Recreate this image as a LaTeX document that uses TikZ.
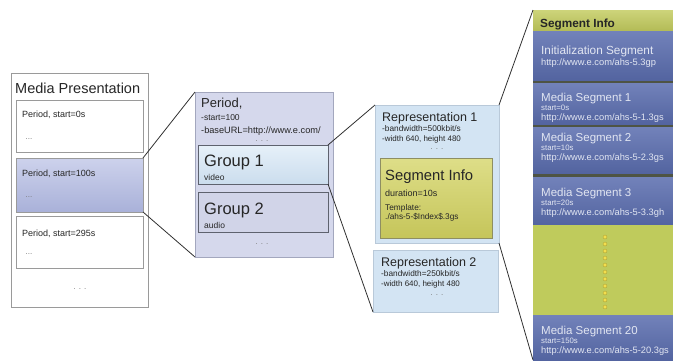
\documentclass[tikz,border=0pt]{standalone}
\usepackage{fontspec}
\setmainfont{Liberation Sans}
\usetikzlibrary{shadows}
\definecolor{txtdark}{HTML}{262626}
\definecolor{dotgray}{HTML}{7A7A7A}
\definecolor{boxline}{HTML}{9A9A9A}
\definecolor{selTop}{HTML}{CDD2EC}
\definecolor{selBot}{HTML}{A9B1D9}
\definecolor{perFill}{HTML}{D5D8EC}
\definecolor{perLine}{HTML}{A3A7BE}
\definecolor{gOneTop}{HTML}{E6F0F9}
\definecolor{gOneBot}{HTML}{CBDDED}
\definecolor{gTwo}{HTML}{D1D4E8}
\definecolor{gLine}{HTML}{5E626E}
\definecolor{repFill}{HTML}{D3E4F3}
\definecolor{repLine}{HTML}{B9C9D9}
\definecolor{siTop}{HTML}{DEDE88}
\definecolor{siBot}{HTML}{C5C55A}
\definecolor{siLine}{HTML}{8E8E62}
\definecolor{colTop}{HTML}{7282BA}
\definecolor{colBot}{HTML}{5364A0}
\definecolor{colSep}{HTML}{4E5444}
\definecolor{colTxt}{HTML}{E2E6F2}
\definecolor{hdrTop}{HTML}{CDD47A}
\definecolor{hdrBot}{HTML}{B3BB56}
\definecolor{midYel}{HTML}{BFCB5C}
\definecolor{dotYel}{HTML}{F2DE4E}
\definecolor{dotEdge}{HTML}{A89A2E}
\definecolor{linec}{HTML}{303030}
\newcommand\myfs[1]{\fontsize{#1}{#1}\selectfont}
\begin{document}
\begin{tikzpicture}[x=1pt,y=-1pt,
  box/.style={anchor=north west, inner sep=0pt, outer sep=0pt, rectangle},
  txt/.style={anchor=base west, inner sep=0pt, text=txtdark},
  dots/.style={anchor=center, inner sep=0pt, text=dotgray, font=\myfs{8}},
  coltxt/.style={anchor=base west, inner sep=0pt, text=colTxt},
  conn/.style={draw=linec, line width=0.8pt},
  shad/.style={drop shadow={opacity=0.25, shadow xshift=1.2pt, shadow yshift=-1.2pt}},
  colblock/.style={box, minimum width=140pt, top color=colTop, bottom color=colBot}]
\useasboundingbox (0,0) rectangle (673,362);

% ---------- Media Presentation ----------
\node[box, draw=boxline, fill=white, line width=0.8pt, minimum width=137pt, minimum height=234pt] (mp) at (11,73) {};
\node[txt, font=\myfs{14.5}] (mpt) at (15,93) {Media Presentation};
\node[box, draw=boxline, fill=white, line width=0.8pt, minimum width=127pt, minimum height=52pt] (p0) at (16,100) {};
\node[txt, font=\myfs{9}] (p0t) at (22,117) {Period, start=0s};
\node[dots] (p0d) at (29,139) {...};
\node[box, draw=boxline, shad, top color=selTop, bottom color=selBot, line width=0.8pt, minimum width=127pt, minimum height=54pt] (p100) at (16,158) {};
\node[txt, font=\myfs{9}] (p100t) at (22,176) {Period, start=100s};
\node[dots] (p100d) at (29,197) {...};
\node[box, draw=boxline, fill=white, line width=0.8pt, minimum width=127pt, minimum height=52pt] (p295) at (16,216) {};
\node[txt, font=\myfs{9}] (p295t) at (22,236) {Period, start=295s};
\node[dots] (p295d) at (29,254) {...};
\node[dots] (mpd) at (80,289) {. . .};

% ---------- Period ----------
\node[box, draw=perLine, fill=perFill, line width=0.8pt, minimum width=138pt, minimum height=165pt] (per) at (195,92) {};
\node[txt, font=\myfs{13}] (pert) at (201,107) {Period,};
\node[txt, font=\myfs{8.5}] (pers) at (201,120) {-start=100};
\node[txt, font=\myfs{9.2}] (peru) at (201,133) {-baseURL=http://www.e.com/};
\node[dots] (perd) at (262,141) {. . .};
\node[box, draw=gLine, shad, top color=gOneTop, bottom color=gOneBot, line width=0.8pt, minimum width=130pt, minimum height=39pt] (g1) at (198,145) {};
\node[txt, font=\myfs{16.5}] (g1t) at (204,166) {Group 1};
\node[txt, font=\myfs{8.5}] (g1s) at (204,180) {video};
\node[box, draw=gLine, shad, fill=gTwo, line width=0.8pt, minimum width=130pt, minimum height=40pt] (g2) at (198,192) {};
\node[txt, font=\myfs{16.5}] (g2t) at (204,214) {Group 2};
\node[txt, font=\myfs{8.5}] (g2s) at (204,228) {audio};
\node[dots] (perd2) at (262,244) {. . .};

% ---------- Representations ----------
\node[box, draw=repLine, shad, fill=repFill, line width=0.6pt, minimum width=124pt, minimum height=138pt] (r1) at (375,105) {};
\node[txt, font=\myfs{12.5}] (r1t) at (382,121) {Representation 1};
\node[txt, font=\myfs{8.3}] (r1a) at (382,131) {-bandwidth=500kbit/s};
\node[txt, font=\myfs{8}] (r1b) at (382,141) {-width 640, height 480};
\node[dots] (r1d) at (437,149) {. . .};
\node[box, draw=siLine, shad, top color=siTop, bottom color=siBot, line width=0.6pt, minimum width=112pt, minimum height=80pt] (si) at (380,158) {};
\node[txt, font=\myfs{14.8}] (sit) at (385,180) {Segment Info};
\node[txt, font=\myfs{9}] (sid) at (385,196) {duration=10s};
\node[txt, font=\myfs{8.3}] (sitp) at (385,210) {Template:};
\node[txt, font=\myfs{8.3}] (sitq) at (385,219) {./ahs-5-\$Index\$.3gs};
\node[box, draw=repLine, shad, fill=repFill, line width=0.6pt, minimum width=125pt, minimum height=62pt] (r2) at (373,250) {};
\node[txt, font=\myfs{12.5}] (r2t) at (381,266) {Representation 2};
\node[txt, font=\myfs{8.3}] (r2a) at (381,276) {-bandwidth=250kbit/s};
\node[txt, font=\myfs{8}] (r2b) at (381,286) {-width 640, height 480};
\node[dots] (r2d) at (437,295) {. . .};

% ---------- Segment Info column ----------
\node[box, fill=colSep, minimum width=140pt, minimum height=350pt] (colbg) at (533,10) {};
\node[box, minimum width=140pt, minimum height=21pt, top color=hdrTop, bottom color=hdrBot] (hdr) at (533,10) {};
\node[txt, font=\bfseries\myfs{11.8}] (hdrt) at (540,27) {Segment Info};
\node[colblock, minimum height=49pt] (init) at (533,31) {};
\node[coltxt, font=\myfs{11.8}] (initt) at (541,54) {Initialization Segment};
\node[coltxt, font=\myfs{9.3}] (initu) at (541,65) {http://www.e.com/ahs-5.3gp};
\node[colblock, minimum height=41pt] (ms1) at (533,83) {};
\node[coltxt, font=\myfs{11.5}] (ms1t) at (541,101) {Media Segment 1};
\node[coltxt, font=\myfs{7.8}] (ms1s) at (541,110) {start=0s};
\node[coltxt, font=\myfs{9.3}] (ms1u) at (541,120) {http://www.e.com/ahs-5-1.3gs};
\node[colblock, minimum height=46pt] (ms2) at (533,127) {};
\node[coltxt, font=\myfs{11.5}] (ms2t) at (541,141) {Media Segment 2};
\node[coltxt, font=\myfs{7.8}] (ms2s) at (541,150) {start=10s};
\node[coltxt, font=\myfs{9.3}] (ms2u) at (541,160) {http://www.e.com/ahs-5-2.3gs};
\node[colblock, minimum height=48pt] (ms3) at (533,177) {};
\node[coltxt, font=\myfs{11.5}] (ms3t) at (541,196) {Media Segment 3};
\node[coltxt, font=\myfs{7.8}] (ms3s) at (541,205) {start=20s};
\node[coltxt, font=\myfs{9.3}] (ms3u) at (541,215) {http://www.e.com/ahs-5-3.3gh};
\node[box, fill=midYel, minimum width=140pt, minimum height=90pt] (mid) at (533,225) {};
\foreach \i in {0,...,10} {
  \filldraw[fill=dotYel, draw=dotEdge, line width=0.3pt] (605,237+7*\i) circle (2pt);
}
\node[colblock, minimum height=45pt] (ms20) at (533,315) {};
\node[coltxt, font=\myfs{11.5}] (ms20t) at (541,334) {Media Segment 20};
\node[coltxt, font=\myfs{7.8}] (ms20s) at (541,343) {start=150s};
\node[coltxt, font=\myfs{9.3}] (ms20u) at (541,353) {http://www.e.com/ahs-5-20.3gs};

% ---------- connectors ----------
\draw[conn] (p100.north east) -- (per.north west);
\draw[conn] (p100.south east) -- (per.south west);
\draw[conn] (g1.north east) -- (r1.north west);
\draw[conn] (g1.south east) -- (r2.south west);
\draw[conn] (r1.north east) -- (hdr.north west);
\draw[conn] (r1.south east) -- (ms20.south west);
\end{tikzpicture}
\end{document}
